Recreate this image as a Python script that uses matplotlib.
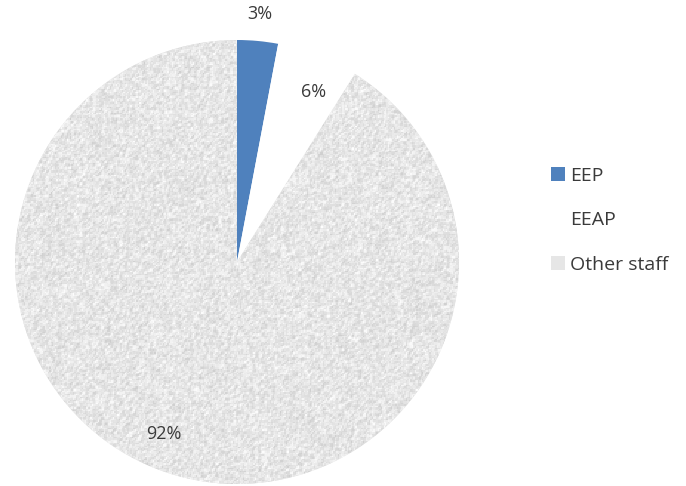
import numpy as np
import matplotlib.pyplot as plt
from matplotlib.patches import Patch

labels = ["EEP", "EEAP", "Other staff"]
shares = [3, 6, 92]
colors = ["#4f81bd", "#ffffff", "#e6e6e6"]

plt.rcParams["font.family"] = ["Open Sans", "DejaVu Sans"]
text_color = "#3a3a3a"

fig = plt.figure(figsize=(6.86, 4.86), dpi=100)
ax = fig.add_axes([15 / 686, 2 / 486, 444 / 686, 444 / 486])

wedges, _ = ax.pie(shares, colors=colors, startangle=90, counterclock=False,
                   radius=1.0, wedgeprops=dict(linewidth=0))
ax.set_xlim(-1, 1)
ax.set_ylim(-1, 1)
ax.set_aspect("equal")
ax.axis("off")

# granite-like fill for the big slice
rng = np.random.default_rng(7)
noise = rng.random((300, 300))
noise = (noise + np.roll(noise, 1, 0) + np.roll(noise, 1, 1)) / 3
tex = 0.80 + 0.20 * noise
img = ax.imshow(tex, cmap="gray", vmin=0, vmax=1, extent=(-1, 1, -1, 1),
                interpolation="nearest", zorder=2)
img.set_clip_path(wedges[2])

# percentage labels: radius and angle nudge per slice
label_r = [1.12, 0.84, 0.84]
label_nudge = [0, -3, -7]
for w, s, r, dn in zip(wedges, shares, label_r, label_nudge):
    mid = np.deg2rad((w.theta1 + w.theta2) / 2 + dn)
    ax.text(r * np.cos(mid), r * np.sin(mid), f"{s}%", ha="center", va="center",
            fontsize=13, color=text_color, zorder=3)

handles = [Patch(facecolor=c, edgecolor="none") for c in colors]
fig.legend(handles, labels, loc="center left", bbox_to_anchor=(0.777, 0.547),
           frameon=False, fontsize=14, labelcolor=text_color, handlelength=0.75,
           handleheight=0.8, handletextpad=0.25, labelspacing=1.35)

fig.savefig("out.png", dpi=100)
